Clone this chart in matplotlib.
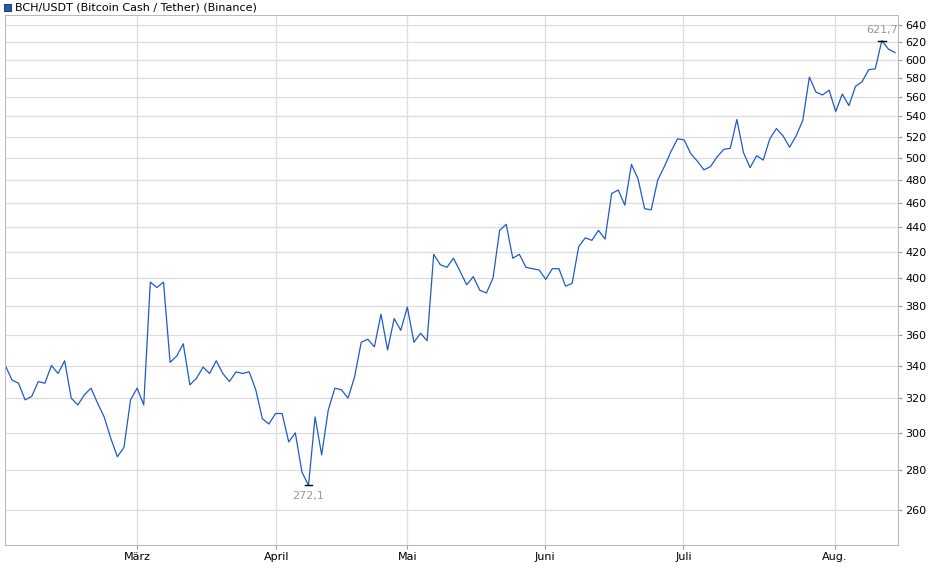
import matplotlib
matplotlib.use("Agg")
import matplotlib.pyplot as plt
from matplotlib.ticker import FixedLocator, NullLocator, FixedFormatter

values = [340, 331, 329, 319, 321, 330, 329, 340, 335, 343, 320, 316, 322, 326, 317, 309, 297, 287, 292, 319,
          326, 316, 397, 393, 397, 342, 346, 354, 328, 332, 339, 335, 343, 335, 330, 336, 335, 336, 325, 308,
          305, 311, 311, 295, 300, 279, 272.1,
          309, 288, 313, 326, 325, 320, 333, 355, 357, 352, 374, 350, 371, 363, 379, 355, 361, 356, 418, 410,
          408, 415, 405, 395, 401, 391, 389, 400, 437, 442, 415, 418, 408, 407, 406, 399,
          407, 407, 394, 396, 424, 431, 429, 437, 430, 468, 471, 458, 494, 481, 455, 454, 480, 492, 506, 518,
          517, 504, 497, 489, 492, 501, 508, 509, 537,
          505, 491, 502, 498, 518, 528, 521, 510, 521, 536, 581, 565, 562, 567, 545, 563, 551, 571, 576, 589,
          590, 621.7, 612, 608]
month_labels = ["März", "April", "Mai", "Juni", "Juli", "Aug."]
month_pos = [20.0, 41.1, 61.0, 81.9, 102.9, 125.9]
yticks = list(range(260, 641, 20))

x = list(range(len(values)))
fig = plt.figure(figsize=(9.4, 5.79), dpi=100)
ax = fig.add_axes([5/940, 1-545/579, 893/940, 530/579])
ax.plot(x, values, color="#1f5bc6", lw=0.9)
ax.set_yscale("log")
ax.set_ylim(243.6, 652)
ax.set_xlim(-0.05, len(values) - 1 + 0.45)
ax.yaxis.set_major_locator(FixedLocator(yticks))
ax.yaxis.set_major_formatter(FixedFormatter([str(t) for t in yticks]))
ax.yaxis.set_minor_locator(NullLocator())
ax.yaxis.tick_right()
ax.set_xticks(month_pos)
ax.set_xticklabels(month_labels)
ax.xaxis.set_minor_locator(NullLocator())
ax.tick_params(axis="both", labelsize=8, color="#999999", length=3, pad=2)
ax.grid(True, color="#dddddd", lw=0.9)
ax.set_axisbelow(True)
for s in ax.spines.values():
    s.set_color("#bbbbbb"); s.set_linewidth(0.8)

imin = values.index(min(values)); imax = values.index(max(values))
for i, va, dy in [(imin, "top", -4), (imax, "bottom", 4)]:
    v = values[i]
    ax.plot([i - 0.6, i + 0.6], [v, v], color="black", lw=1)
    ax.annotate(f"{v:.1f}".replace(".", ","), (i, v), xytext=(0, dy), textcoords="offset points",
                ha="center", va=va, fontsize=8, color="#999999")

fig.patches.append(plt.Rectangle((4/940, 1-11/579), 7/940, 7/579, transform=fig.transFigure,
                                 facecolor="#1f5bc6", edgecolor="#222222", lw=0.6))
fig.text(15/940, 1-7.5/579, "BCH/USDT (Bitcoin Cash / Tether) (Binance)", fontsize=8, va="center")
fig.savefig("out.png", dpi=100)
